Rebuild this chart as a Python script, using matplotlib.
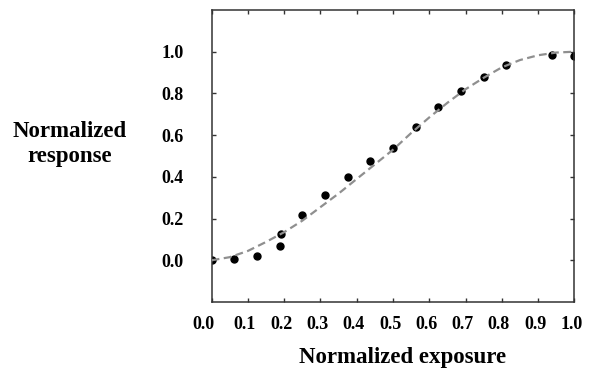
import matplotlib
matplotlib.use("Agg")
import matplotlib.pyplot as plt
from matplotlib.transforms import ScaledTranslation

# measured data points
exposure = [0.0, 0.0625, 0.125, 0.1875, 0.19, 0.25, 0.3125, 0.375, 0.4375,
            0.5, 0.5625, 0.625, 0.6875, 0.75, 0.8125, 0.9375, 1.0]
response = [0.0, 0.008, 0.02, 0.07, 0.128, 0.218, 0.314, 0.398, 0.477,
            0.536, 0.637, 0.736, 0.81, 0.88, 0.938, 0.986, 0.98]

# fitted curve
curve_x = [0.0, 0.05, 0.1, 0.15, 0.2, 0.25, 0.3, 0.35, 0.4, 0.45, 0.5,
           0.55, 0.6, 0.65, 0.7, 0.75, 0.8, 0.85, 0.9, 0.95, 1.0]
curve_y = [0.0, 0.015, 0.045, 0.088, 0.135, 0.19, 0.255, 0.32, 0.39, 0.46,
           0.53, 0.61, 0.685, 0.755, 0.82, 0.875, 0.925, 0.96, 0.983, 0.996, 1.0]

xticks = [0.0, 0.1, 0.2, 0.3, 0.4, 0.5, 0.6, 0.7, 0.8, 0.9, 1.0]
yticks = [0.0, 0.2, 0.4, 0.6, 0.8, 1.0]
xlabels = ["0.0", "0.1", "0.2", "0.3", "0.4", "0.5", "0.6", "0.7", "0.8", "0.9", "1.0"]
ylabels = ["0.0", "0.2", "0.4", "0.6", "0.8", "1.0"]

plt.rcParams['font.family'] = ['Liberation Serif', 'DejaVu Serif']
plt.rcParams['font.weight'] = 'bold'

fig = plt.figure(figsize=(5.97, 3.72), dpi=100)
ax = fig.add_axes([0.3546, 0.1882, 0.962 - 0.3546, 0.9731 - 0.1882])

ax.plot(exposure, response, 'o', color='black', markersize=5, zorder=2)
ax.plot(curve_x, curve_y, color='#8f8f8f', linewidth=1.6, dashes=(3.5, 2),
        zorder=3)

ax.set_xlim(0, 1.0)
ax.set_ylim(-0.2, 1.2)
ax.set_xticks(xticks)
ax.set_xticklabels(xlabels)
ax.set_yticks(yticks)
ax.set_yticklabels(ylabels)

for sp in ax.spines.values():
    sp.set_color('#333333')
    sp.set_linewidth(1.1)

ax.tick_params(axis='both', direction='in', length=3, width=1, color='#333333',
               top=True, right=True, labelsize=13)
ax.tick_params(axis='y', pad=20)
ax.tick_params(axis='x', pad=10)
for lbl in ax.get_xticklabels() + ax.get_yticklabels():
    lbl.set_fontweight('bold')

# small leftward shift of x tick labels as in the reference
xl = ax.get_xticklabels()
for i, lbl in enumerate(xl):
    dx = -8 if i == 0 else -3
    lbl.set_transform(lbl.get_transform() + ScaledTranslation(dx / 100, 0, fig.dpi_scale_trans))

fig.text(70 / 597, 1 - 144 / 372, "Normalized\nresponse", ha='center',
         va='center', fontsize=16.5, fontweight='bold', linespacing=1.2)
fig.text(403 / 597, 1 - 357 / 372, "Normalized exposure", ha='center',
         va='center', fontsize=16.5, fontweight='bold')

fig.savefig("out.png", dpi=100)
